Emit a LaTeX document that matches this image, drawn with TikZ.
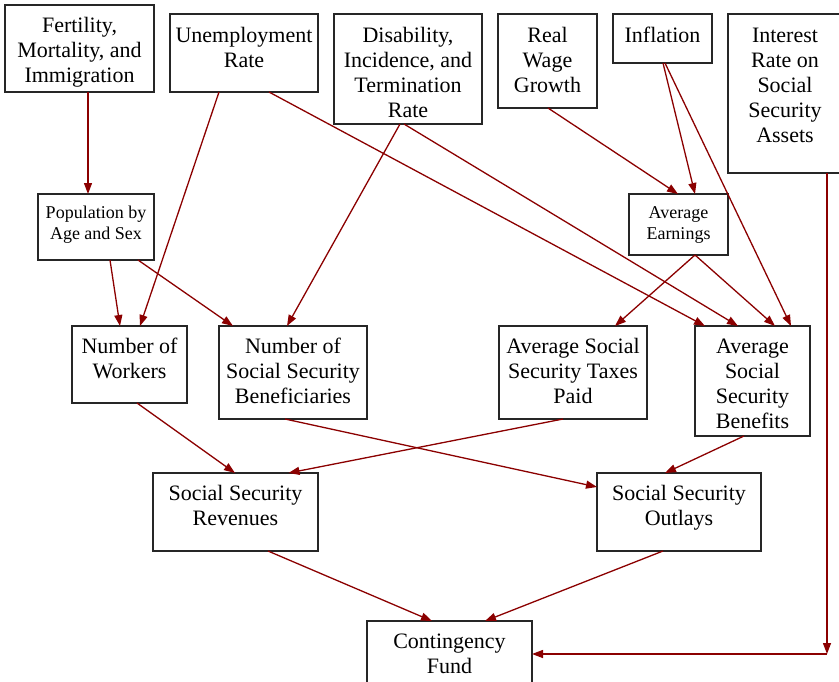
\documentclass[tikz,border=0pt]{standalone}
\usepackage{fontspec}
\setmainfont{Liberation Serif}
\usetikzlibrary{arrows.meta,calc}
\definecolor{edgered}{HTML}{8B0000}
\newcommand\bigstrutx{\rule{0pt}{17pt}}
\newcommand\smallstrutx{\rule{0pt}{14pt}}
\begin{document}
\begin{tikzpicture}[x=1pt,y=-1pt,
  box/.style={draw=black!85,line width=1.1pt,inner sep=0pt,outer sep=0pt},
  txt/.style={anchor=north,inner sep=0pt,align=center,font=\fontsize{22}{25}\selectfont},
  smalltxt/.style={txt,font=\fontsize{18}{21}\selectfont},
  link/.style={draw=edgered,line width=1.3pt,-{Triangle[length=11pt,width=8pt]}}]
\useasboundingbox (0,0) rectangle (839,681);
% top row
\node[box,minimum width=149,minimum height=87] (fert) at (79.5,48.5) {};
\node[txt] (fertT) at (79.5,15) {\bigstrutx Fertility,\\Mortality, and\\Immigration};
\node[box,minimum width=148,minimum height=78] (unemp) at (244,53) {};
\node[txt] (unempT) at (244,25.5) {\bigstrutx Unemployment\\Rate};
\node[box,minimum width=148,minimum height=110] (disab) at (408,69) {};
\node[txt] (disabT) at (408,25.5) {\bigstrutx Disability,\\Incidence, and\\Termination\\Rate};
\node[box,minimum width=99,minimum height=94] (wage) at (547.5,61) {};
\node[txt] (wageT) at (547.5,25.5) {\bigstrutx Real\\Wage\\Growth};
\node[box,minimum width=99,minimum height=49] (infl) at (662.5,38.5) {};
\node[txt] (inflT) at (662.5,25.5) {\bigstrutx Inflation};
\node[box,minimum width=114,minimum height=159] (inter) at (785,93.5) {};
\node[txt] (interT) at (785,25.5) {\bigstrutx Interest\\Rate on\\Social\\Security\\Assets};
% second row
\node[box,minimum width=116,minimum height=66] (pop) at (96,227) {};
\node[smalltxt] (popT) at (96,204) {\smallstrutx Population by\\Age and Sex};
\node[box,minimum width=99,minimum height=61] (earn) at (678.5,224.5) {};
\node[smalltxt] (earnT) at (678.5,204) {\smallstrutx Average\\Earnings};
% third row
\node[box,minimum width=115,minimum height=77] (work) at (129.5,364.5) {};
\node[txt] (workT) at (129.5,336) {\bigstrutx Number of\\Workers};
\node[box,minimum width=148,minimum height=93] (benef) at (293,372.5) {};
\node[txt] (benefT) at (293,336) {\bigstrutx Number of\\Social Security\\Beneficiaries};
\node[box,minimum width=148,minimum height=93] (taxes) at (573,372.5) {};
\node[txt] (taxesT) at (573,336) {\bigstrutx Average Social\\Security Taxes\\Paid};
\node[box,minimum width=115,minimum height=110] (bens) at (752.5,381) {};
\node[txt] (bensT) at (752.5,336) {\bigstrutx Average\\Social\\Security\\Benefits};
% fourth row
\node[box,minimum width=165,minimum height=78] (rev) at (235.5,512) {};
\node[txt] (revT) at (235.5,483) {\bigstrutx Social Security\\Revenues};
\node[box,minimum width=164,minimum height=78] (out) at (679,512) {};
\node[txt] (outT) at (679,483) {\bigstrutx Social Security\\Outlays};
% bottom
\node[box,minimum width=165,minimum height=77] (cont) at (449.5,659.5) {};
\node[txt] (contT) at (449.5,631) {\bigstrutx Contingency\\Fund};
\coordinate (turn) at (827,654);
% connectors
\draw[link] ($(fert.south)+(8.5,0)$) -- ($(pop.north)+(-8,0)$);
\draw[link] ($(unemp.south)+(-25,0)$) -- ($(work.north)+(10.5,0)$);
\draw[link] ($(unemp.south)+(25,0)$) -- ($(bens.north)+(-47.5,0)$);
\draw[link] ($(disab.south)+(-8,0)$) -- ($(benef.north)+(-6,0)$);
\draw[link] ($(disab.south)+(-4,0)$) -- ($(bens.north)+(-14.5,0)$);
\draw[link] ($(wage.south)+(0.5,0)$) -- ($(earn.north)+(-0.5,0)$);
\draw[link] ($(infl.south)+(0.5,0)$) -- ($(earn.north)+(16.5,0)$);
\draw[link] ($(infl.south)+(2.5,0)$) -- ($(bens.north)+(38.5,0)$);
\draw[link] ($(inter.south)+(42,0)$) -- (turn);
\draw[link] (turn) -- ($(cont.east)+(0,-5.5)$);
\draw[link] ($(pop.south)+(14,0)$) -- ($(work.north)+(-9.5,0)$);
\draw[link] ($(pop.south)+(42,0)$) -- ($(benef.north)+(-60,0)$);
\draw[link] ($(earn.south)+(16.5,0)$) -- ($(taxes.north)+(42,0)$);
\draw[link] ($(earn.south)+(16.5,0)$) -- ($(bens.north)+(22.5,0)$);
\draw[link] ($(work.south)+(7.5,0)$) -- ($(rev.north)+(-0.5,0)$);
\draw[link] ($(benef.south)+(-8,0)$) -- ($(out.west)+(0,-25)$);
\draw[link] ($(taxes.south)+(-10,0)$) -- ($(rev.north)+(53,0)$);
\draw[link] ($(bens.south)+(-8.5,0)$) -- ($(out.north)+(-14,0)$);
\draw[link] ($(rev.south)+(32.5,0)$) -- ($(cont.north)+(-17.5,0)$);
\draw[link] ($(out.south)+(-16,0)$) -- ($(cont.north)+(35.5,0)$);
\end{tikzpicture}
\end{document}
